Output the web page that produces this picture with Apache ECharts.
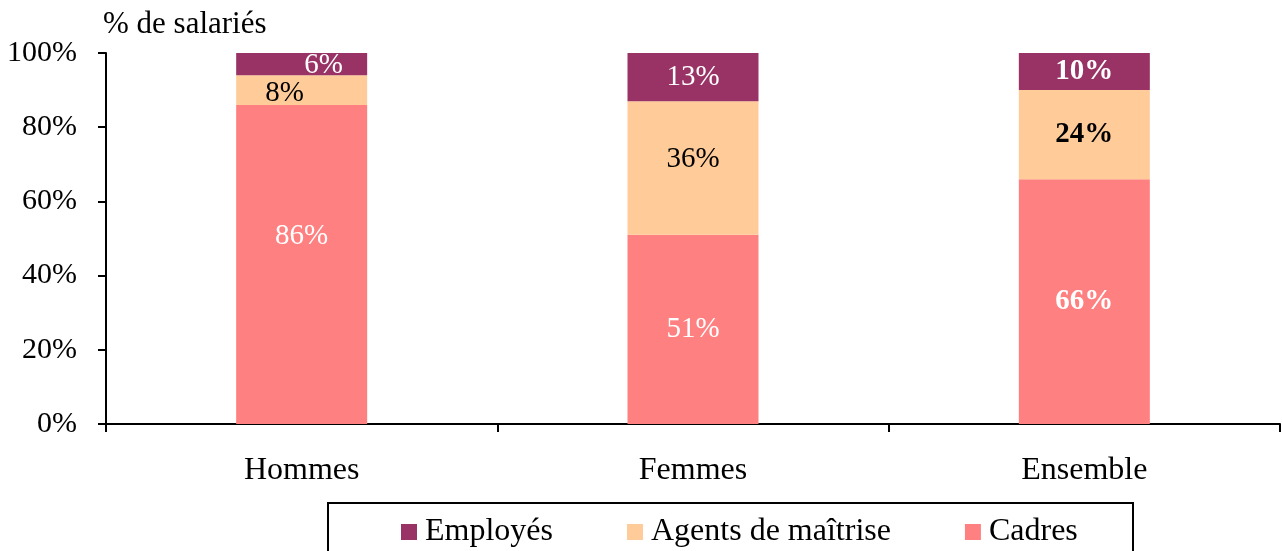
<!DOCTYPE html>
<html>
<head>
<meta charset="utf-8">
<script src="https://cdn.jsdelivr.net/npm/echarts@6/dist/echarts.min.js"></script>
<style>
  html, body { margin: 0; padding: 0; background: #fff; }
  #chart { width: 1282px; height: 551px; }
</style>
</head>
<body>
<div id="chart"></div>
<script>
const categories = ["Hommes", "Femmes", "Ensemble"];
const cadres = [86, 51, 66];
const agents = [8, 36, 24];
const employes = [6, 13, 10];
const yTicks = [0, 20, 40, 60, 80, 100];

const FONT = "'Liberation Serif', 'Times New Roman', serif";

// ensemble labels are bold, some labels nudged like the original
function makeData(values, opts) {
  return values.map((v, i) => {
    const d = { value: v, label: {} };
    if (i === 2) d.label.fontWeight = "bold";
    if (opts && opts[i]) d.label.offset = opts[i];
    return d;
  });
}

const chart = echarts.init(document.getElementById("chart"));

const labelBase = {
  show: true,
  position: "inside",
  fontFamily: FONT,
  fontSize: 29,
  formatter: p => p.value + "%"
};

chart.setOption({
  animation: false,
  textStyle: { fontFamily: FONT },
  title: {
    text: "% de salariés",
    left: 98,
    top: 4,
    textStyle: { fontFamily: FONT, fontSize: 31, fontWeight: "normal", color: "#000" }
  },
  grid: { left: 106, right: 2, top: 53, bottom: 127 },
  legend: {
    left: 396,
    top: 511,
    itemGap: 74,
    itemWidth: 16,
    itemHeight: 16,
    icon: "rect",
    textStyle: { fontFamily: FONT, fontSize: 32, color: "#000", padding: [0, 0, 0, 3] },
    data: ["Employés", "Agents de maîtrise", "Cadres"]
  },
  graphic: [{
    type: "rect",
    shape: { x: 328, y: 503, width: 805, height: 70 },
    style: { fill: "none", stroke: "#000", lineWidth: 2 }
  }],
  xAxis: {
    type: "category",
    data: categories,
    axisLine: { lineStyle: { color: "#000", width: 2 } },
    axisTick: { show: true, length: 8, lineStyle: { color: "#000", width: 2 } },
    axisLabel: { fontFamily: FONT, fontSize: 32, color: "#000", margin: 31 }
  },
  yAxis: {
    type: "value",
    min: 0,
    max: 100,
    interval: 20,
    axisLine: { show: true, lineStyle: { color: "#000", width: 2 } },
    axisTick: { show: true, length: 8, lineStyle: { color: "#000", width: 2 } },
    splitLine: { show: false },
    axisLabel: {
      fontFamily: FONT, fontSize: 30, color: "#000", margin: 29,
      formatter: v => yTicks.includes(v) ? v + "%" : ""
    }
  },
  series: [
    {
      name: "Cadres",
      type: "bar",
      stack: "s",
      barWidth: 131,
      itemStyle: { color: "#FF8080" },
      label: Object.assign({}, labelBase, { color: "#fff" }),
      data: makeData(cadres, { 0: [0, -28] })
    },
    {
      name: "Agents de maîtrise",
      type: "bar",
      stack: "s",
      barWidth: 131,
      itemStyle: { color: "#FFCC99" },
      label: Object.assign({}, labelBase, { color: "#000" }),
      data: makeData(agents, { 0: [-17, 3], 1: [0, -9] })
    },
    {
      name: "Employés",
      type: "bar",
      stack: "s",
      barWidth: 131,
      itemStyle: { color: "#993366" },
      label: Object.assign({}, labelBase, { color: "#fff" }),
      data: makeData(employes, { 0: [22, 1] })
    }
  ]
});
</script>
</body>
</html>
